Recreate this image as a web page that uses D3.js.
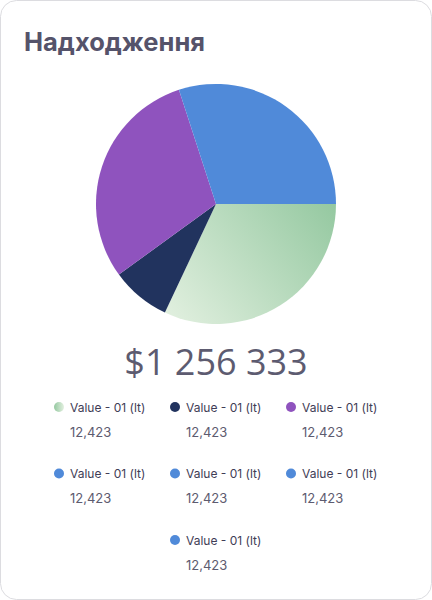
<!DOCTYPE html>
<html><head><meta charset="utf-8">
<script src="https://cdn.jsdelivr.net/npm/d3@7"></script>
<style>
html,body{margin:0;padding:0;background:#fff;}
svg{display:block;}
</style></head>
<body><svg id="c" width="432" height="600"></svg>
<script>
const title = "Надходження";
const total = "$1 256 333";
const labels = ["Value - 01 (lt)","Value - 01 (lt)","Value - 01 (lt)","Value - 01 (lt)","Value - 01 (lt)","Value - 01 (lt)","Value - 01 (lt)"];
const values = [32, 8, 30, 30, 0, 0, 0];
const valueLabels = ["12,423","12,423","12,423","12,423","12,423","12,423","12,423"];
const colors = ["url(#gG)","#21335e","#8f53be","#508ad9","#508ad9","#508ad9","#508ad9"];

const svg = d3.select("#c");
const defs = svg.append("defs");
const cx = 216, cy = 204, r = 120;
const g1 = defs.append("linearGradient").attr("id","gG").attr("gradientUnits","userSpaceOnUse")
  .attr("x1",160-cx).attr("y1",330-cy).attr("x2",330-cx).attr("y2",195-cy);
g1.append("stop").attr("offset","0").attr("stop-color","#e6f2e3");
g1.append("stop").attr("offset","1").attr("stop-color","#94c8a0");
const g2 = defs.append("linearGradient").attr("id","gL").attr("x1","0").attr("y1","0").attr("x2","1").attr("y2","0");
g2.append("stop").attr("offset","0").attr("stop-color","#94c8a0");
g2.append("stop").attr("offset","1").attr("stop-color","#e3f0e0");

svg.append("rect").attr("x",0.5).attr("y",0.5).attr("width",431).attr("height",599)
  .attr("rx",16).attr("fill","#fff").attr("stroke","#dcdce0");

svg.append("text").attr("x",24).attr("y",51).text(title)
  .attr("font-family","Inter").attr("font-weight",700).attr("font-size",25.5).attr("fill","#55536a");

const pie = d3.pie().sort(null).value(d=>d).startAngle(Math.PI/2).endAngle(Math.PI/2 + 2*Math.PI);
const arc = d3.arc().innerRadius(0).outerRadius(r);
svg.append("g").attr("transform",`translate(${cx},${cy})`)
  .selectAll("path").data(pie(values).filter(d=>d.value>0)).join("path")
  .attr("d",arc).attr("fill",d=>colors[d.index]);

svg.append("text").attr("x",216).attr("y",375).attr("text-anchor","middle").text(total)
  .attr("font-family","Open Sans").attr("font-weight",400).attr("font-size",36).attr("fill","#5d5b70");

const colX = d3.scalePoint().domain([0,1,2]).range([59,291]);
const rowY = d3.scalePoint().domain([0,1,2]).range([407,540]);
const items = labels.map((l,i)=>{
  const row = Math.floor(i/3);
  let col = i%3;
  if (row===2) col = 1;
  return {l, v:valueLabels[i], c: i===0?"url(#gL)":colors[i], x: colX(col), y: rowY(row)};
});
const lg = svg.append("g").selectAll("g").data(items).join("g")
  .attr("transform",d=>`translate(${d.x},${d.y})`);
lg.append("circle").attr("r",5).attr("fill",d=>d.c);
lg.append("text").attr("x",11).attr("y",4.5).text(d=>d.l)
  .attr("font-family","Inter").attr("font-size",12).attr("fill","#3f3d56");
lg.append("text").attr("x",11).attr("y",29.5).text(d=>d.v)
  .attr("font-family","Inter").attr("font-size",13).attr("fill","#5d5b70");
</script></body></html>
